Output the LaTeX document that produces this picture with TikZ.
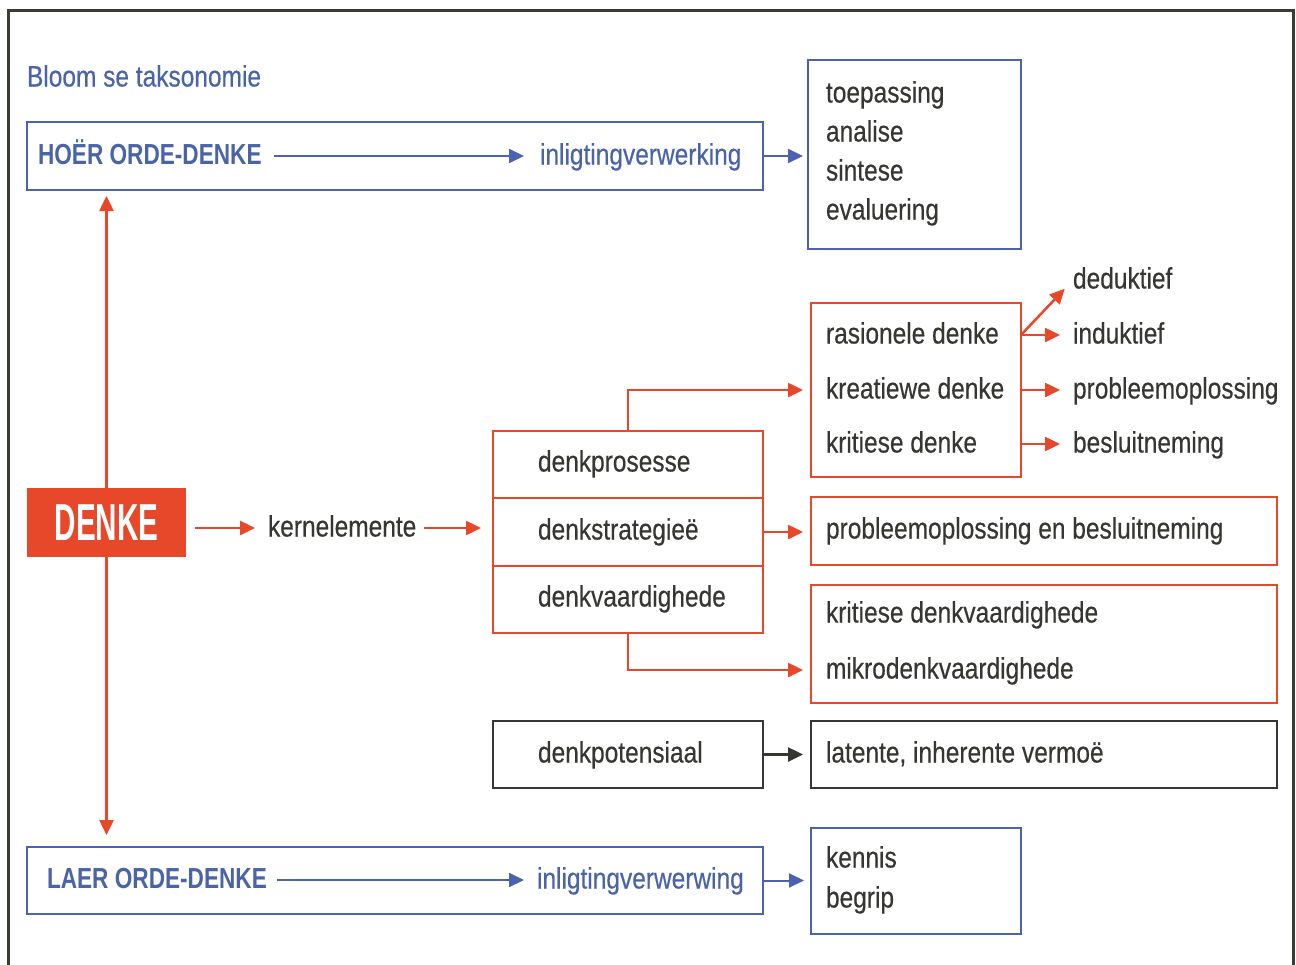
\documentclass[tikz,border=0pt]{standalone}
\usepackage{fontspec}
\setmainfont[FakeStretch=0.83,FakeBold=0.4]{Liberation Sans}
\newfontfamily\hdfont[FakeStretch=0.78]{Liberation Sans}
\newfontfamily\dkfont[FakeStretch=0.57]{Liberation Sans}
\usetikzlibrary{arrows.meta}
\definecolor{bl}{HTML}{4A62B0}
\definecolor{blt}{HTML}{4A64A8}
\definecolor{rd}{HTML}{E8482A}
\definecolor{dk}{HTML}{363632}
\definecolor{frm}{HTML}{3C3C34}
\tikzset{
  txt/.style={anchor=west, inner sep=0pt, outer sep=0pt, text height=17pt, text depth=0pt,
    font=\fontsize{29.5}{34}\selectfont, text=dk},
  btxt/.style={txt, text=blt},
  hdtxt/.style={txt, text=blt, font=\hdfont\bfseries\fontsize{29}{34}\selectfont},
  box/.style={draw, line width=2.5pt, inner sep=0pt, outer sep=0pt},
  bluebox/.style={box, draw=bl},
  redbox/.style={box, draw=rd},
  darkbox/.style={box, draw=dk},
  tip/.style={-{Triangle[length=15pt,width=14pt]}},
  barr/.style={tip, draw=bl, line width=2pt},
  rarr/.style={tip, draw=rd, line width=2.5pt},
  darr/.style={tip, draw=dk, line width=2.5pt},
}
\begin{document}
\begin{tikzpicture}[x=1pt,y=-1pt]
\useasboundingbox (0,0) rectangle (1296,964);
\clip (0,0) rectangle (1296,964);
\fill[white] (0,0) rectangle (1296,964);
\draw[frm, line width=3pt] (8,980) -- (8,10) -- (1293,10) -- (1293,980);

% boxes
\node[bluebox, minimum width=736pt, minimum height=68pt] (hoerbox) at (395,156) {};
\node[bluebox, minimum width=213pt, minimum height=189pt] (toebox) at (914.5,154.5) {};
\node[fill=rd, inner sep=0pt, outer sep=0pt, minimum width=159pt, minimum height=69pt,
      text=white, font=\dkfont\bfseries\fontsize{52}{56}\selectfont] (denke) at (106.5,522.5) {DENKE};
\node[redbox, minimum width=270pt, minimum height=67pt] (dp) at (628,464.5) {};
\node[redbox, minimum width=270pt, minimum height=68pt] (ds) at (628,532) {};
\node[redbox, minimum width=270pt, minimum height=67pt] (dv) at (628,599.5) {};
\node[redbox, minimum width=210pt, minimum height=174pt] (ras) at (916,390) {};
\node[redbox, minimum width=466pt, minimum height=68pt] (pb) at (1044,531) {};
\node[redbox, minimum width=466pt, minimum height=118pt] (kd) at (1044,644) {};
\node[darkbox, minimum width=270pt, minimum height=67pt] (dpot) at (628,754.5) {};
\node[darkbox, minimum width=466pt, minimum height=67pt] (lat) at (1044,754.5) {};
\node[bluebox, minimum width=736pt, minimum height=67pt] (laerbox) at (395,880.5) {};
\node[bluebox, minimum width=210pt, minimum height=106pt] (kenbox) at (916,881) {};

% texts
\node[btxt] (bloom) at (27,78) {Bloom se taksonomie};
\node[hdtxt] (hoer) at (38,156) {HOËR ORDE-DENKE};
\node[btxt] (inlig1) at (540,156) {inligtingverwerking};
\node[txt] (toep) at (826,94) {toepassing};
\node[txt] (anal) at (826,133) {analise};
\node[txt] (sint) at (826,172) {sintese};
\node[txt] (eval) at (826,211) {evaluering};
\node[txt] (kern) at (268,528) {kernelemente};
\node[txt] (tdp) at (538,463) {denkprosesse};
\node[txt] (tds) at (538,531) {denkstrategieë};
\node[txt] (tdv) at (538,598) {denkvaardighede};
\node[txt] (rasd) at (826,335) {rasionele denke};
\node[txt] (krea) at (826,390) {kreatiewe denke};
\node[txt] (krit) at (826,444) {kritiese denke};
\node[txt] (dedu) at (1073,280) {deduktief};
\node[txt] (indu) at (1073,335) {induktief};
\node[txt] (prob) at (1073,390) {probleemoplossing};
\node[txt] (besl) at (1073,444) {besluitneming};
\node[txt] (tpb) at (826,530) {probleemoplossing en besluitneming};
\node[txt] (kdv) at (826,614) {kritiese denkvaardighede};
\node[txt] (mikro) at (826,670) {mikrodenkvaardighede};
\node[txt] (tdpot) at (538,754) {denkpotensiaal};
\node[txt] (tlat) at (826,754) {latente, inherente vermoë};
\node[hdtxt] (laer) at (47,880) {LAER ORDE-DENKE};
\node[btxt] (inlig2) at (537,880) {inligtingverwerwing};
\node[txt] (kenn) at (826,859) {kennis};
\node[txt] (begr) at (826,899) {begrip};

% connectors
\draw[barr, shorten <=12pt, shorten >=16pt] (hoer.east) -- (inlig1.west);
\draw[barr, shorten >=5pt] (hoerbox.east) -- (hoerbox.east -| toebox.west);
\draw[barr, shorten <=10pt, shorten >=13pt] (laer.east) -- (inlig2.west);
\draw[barr, shorten >=7pt] (laerbox.east) -- (laerbox.east -| kenbox.west);

\draw[rarr, shorten >=6pt] (denke.north) -- (denke.north |- hoerbox.south);
\draw[rarr, shorten >=12pt] (denke.south) -- (denke.south |- laerbox.north);
\draw[rarr, shorten <=9pt, shorten >=13pt] (denke.east |- kern.west) -- (kern.west);
\draw[rarr, shorten <=8pt, shorten >=12pt] (kern.east) -- (kern.east -| ds.west);
\draw[rarr, shorten >=8pt] (dp.north) |- (ras.west);
\draw[rarr, shorten >=8pt] (ds.east) -- (ds.east -| pb.west);
\draw[rarr, shorten >=8pt] (dv.south) |- (kd.west |- mikro.west);
\draw[darr, shorten >=8pt] (dpot.east) -- (lat.west);

\draw[rarr, shorten >=13pt] (ras.east |- rasd.west) -- (indu.west);
\draw[rarr, shorten >=12pt] (ras.east |- rasd.west) -- (dedu.west);
\draw[rarr, shorten >=13pt] (ras.east |- krea.west) -- (prob.west);
\draw[rarr, shorten >=13pt] (ras.east |- krit.west) -- (besl.west);
\end{tikzpicture}
\end{document}
